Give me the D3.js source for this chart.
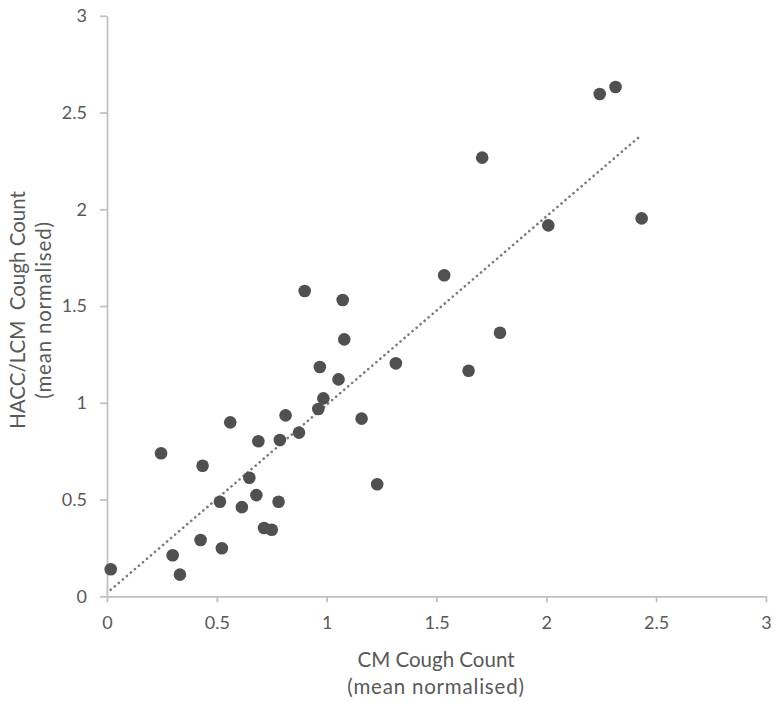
<!DOCTYPE html>
<html><head><meta charset="utf-8">
<script src="https://cdn.jsdelivr.net/npm/d3@7"></script>
<style>body{margin:0;background:#fff;} text{font-family:Lato,"Open Sans",sans-serif;}</style>
</head><body>
<svg id="c" width="777" height="702"></svg>
<script>
const cmCount = [0.017,0.246,0.299,0.332,0.435,0.426,0.514,0.523,0.561,0.614,0.648,0.680,0.689,0.715,0.750,0.781,0.787,0.813,0.874,0.962,0.969,0.985,1.054,1.080,1.073,1.159,1.230,1.315,0.900,1.708,2.243,2.315,2.009,2.434,1.535,1.789,1.646];
const haccCount = [0.140,0.739,0.212,0.112,0.675,0.291,0.489,0.248,0.899,0.461,0.613,0.523,0.801,0.353,0.344,0.489,0.808,0.935,0.846,0.968,1.185,1.023,1.121,1.328,1.531,0.918,0.579,1.204,1.578,2.267,2.596,2.632,1.917,1.953,1.659,1.362,1.166];
const xTicks = [0,0.5,1,1.5,2,2.5,3];
const yTicks = [0,0.5,1,1.5,2,2.5,3];
const trendSlope = 0.973, trendIntercept = 0.017;

const svg = d3.select("#c");
const x = d3.scaleLinear().domain([0,3]).range([107,766]);
const y = d3.scaleLinear().domain([0,3]).range([596.3,15.8]);
const axisCol = "#c0c0c0", txtCol = "#595959";

const gx = svg.append("g").attr("transform","translate(0,"+y(0)+")")
  .call(d3.axisBottom(x).tickValues(xTicks).tickSize(6).tickSizeOuter(0).tickFormat(d3.format("")));
const gy = svg.append("g").attr("transform","translate("+x(0)+",0)")
  .call(d3.axisLeft(y).tickValues(yTicks).tickSize(7).tickSizeOuter(0).tickFormat(d3.format("")));
[gx,gy].forEach(g=>{
  g.select(".domain").attr("stroke",axisCol).attr("stroke-width",1.8);
  g.selectAll(".tick line").attr("stroke",axisCol).attr("stroke-width",1.8);
  g.selectAll(".tick text").attr("fill",txtCol).attr("font-size",18);
});
gx.selectAll(".tick text").attr("y",33).attr("dy",0);
gy.selectAll(".tick text").attr("x",-20);

const pts = cmCount.map((v,i)=>({x:v,y:haccCount[i]}));
const xe = d3.extent(cmCount);
svg.append("line")
  .attr("x1",x(xe[0])).attr("y1",y(trendIntercept+trendSlope*xe[0]))
  .attr("x2",x(xe[1])).attr("y2",y(trendIntercept+trendSlope*xe[1]))
  .attr("stroke","#7a7a7a").attr("stroke-width",2.6)
  .attr("stroke-linecap","round").attr("stroke-dasharray","0.1 5.2");

svg.append("g").selectAll("circle").data(pts).join("circle")
  .attr("cx",d=>x(d.x)).attr("cy",d=>y(d.y)).attr("r",6.3).attr("fill","#505050");

svg.append("text").attr("x",436).attr("y",667).attr("text-anchor","middle")
  .attr("fill",txtCol).attr("font-size",20.5).text("CM Cough Count");
svg.append("text").attr("x",436).attr("y",694).attr("text-anchor","middle")
  .attr("fill",txtCol).attr("font-size",20.5).attr("letter-spacing",0.8).text("(mean normalised)");
svg.append("text").attr("transform","translate(25,310) rotate(-90)").attr("text-anchor","middle")
  .attr("fill",txtCol).attr("font-size",20.5).attr("xml:space","preserve").text("HACC/LCM  Cough Count");
svg.append("text").attr("transform","translate(51,310) rotate(-90)").attr("text-anchor","middle")
  .attr("fill",txtCol).attr("font-size",20.5).attr("letter-spacing",0.8).text("(mean normalised)");
</script>
</body></html>
